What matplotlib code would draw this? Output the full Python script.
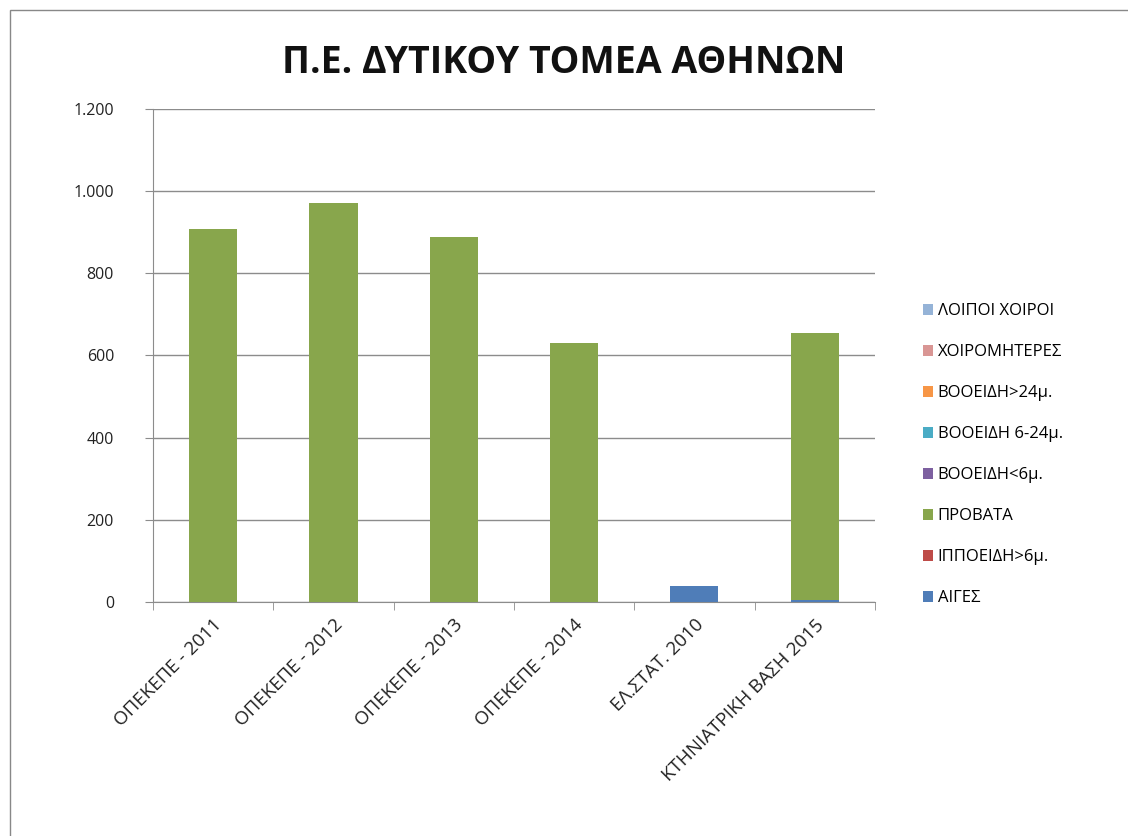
import numpy as np
import matplotlib
matplotlib.use("Agg")
import matplotlib.pyplot as plt
from matplotlib.patches import Rectangle
from matplotlib.ticker import FuncFormatter

plt.rcParams['font.family'] = ['Open Sans', 'DejaVu Sans']

# categories (sources / years)
categories = ['ΟΠΕΚΕΠΕ - 2011', 'ΟΠΕΚΕΠΕ - 2012', 'ΟΠΕΚΕΠΕ - 2013',
              'ΟΠΕΚΕΠΕ - 2014', 'ΕΛ.ΣΤΑΤ. 2010', 'ΚΤΗΝΙΑΤΡΙΚΗ ΒΑΣΗ 2015']

# series, stacked bottom to top
aiges = [0, 0, 0, 0, 39, 5]
ippoeidi = [0, 0, 0, 0, 0, 0]
provata = [908, 971, 888, 631, 0, 650]
vooeidi_lt6 = [0, 0, 0, 0, 0, 0]
vooeidi_6_24 = [0, 0, 0, 0, 0, 0]
vooeidi_gt24 = [0, 0, 0, 0, 0, 0]
xoiromiteres = [0, 0, 0, 0, 0, 0]
loipoi_xoiroi = [0, 0, 0, 0, 0, 0]

series_names = ['ΑΙΓΕΣ', 'ΙΠΠΟΕΙΔΗ>6μ.', 'ΠΡΟΒΑΤΑ', 'ΒΟΟΕΙΔΗ<6μ.',
                'ΒΟΟΕΙΔΗ 6-24μ.', 'ΒΟΟΕΙΔΗ>24μ.', 'ΧΟΙΡΟΜΗΤΕΡΕΣ', 'ΛΟΙΠΟΙ ΧΟΙΡΟΙ']
series_values = [aiges, ippoeidi, provata, vooeidi_lt6, vooeidi_6_24,
                 vooeidi_gt24, xoiromiteres, loipoi_xoiroi]
colors = ['#4F7DB8', '#BE4B48', '#88A64C', '#7D60A0', '#4AACC5',
          '#F79646', '#D99694', '#95B3D7']

fig = plt.figure(figsize=(11.28, 8.36), dpi=100)
fig.patches.append(Rectangle((0.009, -0.01), 1.0, 0.998, transform=fig.transFigure,
                             fill=False, edgecolor='#888888', linewidth=1.0))
ax = fig.add_axes([0.1356, 0.28, 0.64, 0.59])

x = np.arange(len(categories))
bottom = np.zeros(len(categories))
handles = []
for name, vals, col in zip(series_names, series_values, colors):
    vals = np.array(vals, dtype=float)
    b = ax.bar(x, vals, 0.4, bottom=bottom, color=col, label=name, zorder=3)
    handles.append(b)
    bottom += vals

ax.set_xlim(-0.5, len(categories) - 0.5)
ax.set_ylim(0, 1200)
ax.set_yticks(np.arange(0, 1201, 200))
ax.yaxis.set_major_formatter(FuncFormatter(lambda v, p: f"{int(v):,}".replace(',', '.')))
ax.grid(axis='y', color='#8c8c8c', linewidth=1.0, zorder=0)

ax.set_xticks(x)
ax.set_xticklabels(categories, rotation=45, ha='right', rotation_mode='anchor',
                   fontsize=13.5, color='#222222')
ax.tick_params(axis='x', length=0, pad=10)
ax.set_xticks(np.arange(-0.5, len(categories), 1), minor=True)
ax.tick_params(axis='x', which='minor', length=6, color='#8c8c8c')
ax.tick_params(axis='y', length=6, color='#8c8c8c', labelsize=11.5, pad=22,
               labelcolor='#222222')

for s in ['top', 'right']:
    ax.spines[s].set_visible(False)
for s in ['left', 'bottom']:
    ax.spines[s].set_color('#8c8c8c')

fig.text(0.5, 0.925, 'Π.Ε. ΔΥΤΙΚΟΥ ΤΟΜΕΑ ΑΘΗΝΩΝ', ha='center', va='center',
         fontsize=27, fontweight='bold', color='#111111')

leg = fig.legend(handles[::-1], series_names[::-1], loc='center left',
                 bbox_to_anchor=(0.818, 0.456), frameon=False, fontsize=12,
                 handlelength=0.6, handleheight=0.6, labelspacing=1.5,
                 handletextpad=0.3, borderaxespad=0, borderpad=0)

fig.savefig('out.png', dpi=100)
